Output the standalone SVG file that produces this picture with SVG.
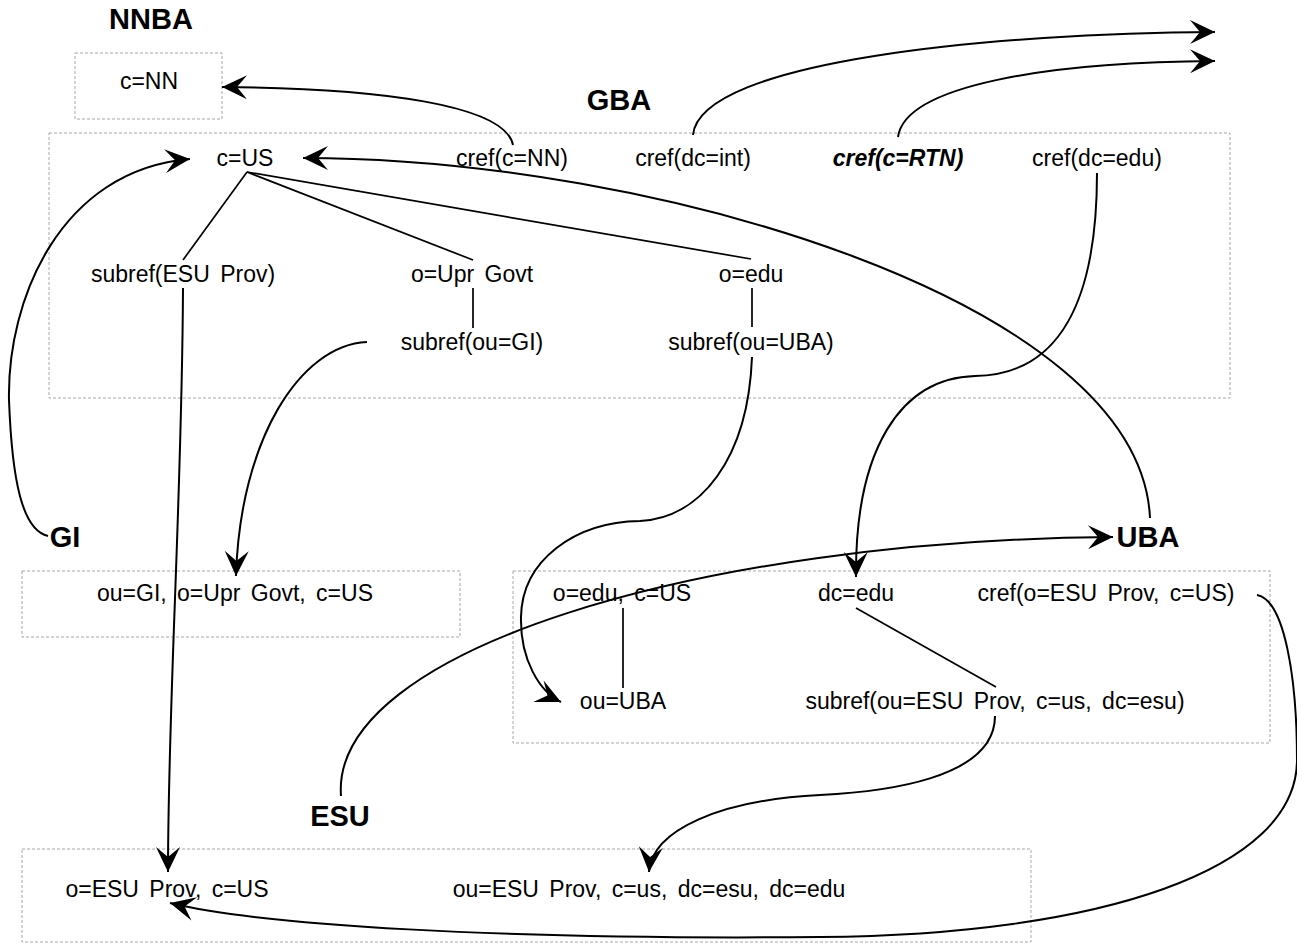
<svg xmlns="http://www.w3.org/2000/svg" width="1297" height="944" viewBox="0 0 1297 944">
<style>
.box{fill:none;stroke:#a6a6a6;stroke-width:1;stroke-dasharray:3 2}
.t{font-family:"Liberation Sans",Arial,sans-serif;font-size:23px;fill:#000;text-anchor:middle;word-spacing:4px}
.lbl{font-family:"Liberation Sans",Arial,sans-serif;font-size:29px;font-weight:bold;fill:#000;text-anchor:middle}
.bi{font-weight:bold;font-style:italic}
.edge{fill:none;stroke:#000;stroke-width:2}
.tree{fill:none;stroke:#000;stroke-width:1.7}
.arr{marker-end:url(#ah)}
</style>
<defs>
<marker id="ah" markerUnits="userSpaceOnUse" markerWidth="28" markerHeight="28" viewBox="0 0 28 28" refX="26" refY="14" orient="auto">
<path d="M26,14 L1,2 L11,14 L1,26 Z" fill="#000"/>
</marker>
</defs>
<rect width="1297" height="944" fill="#fff"/>

<g id="NNBA">
<text class="lbl" x="151" y="29">NNBA</text>
<rect class="box" x="75" y="53" width="147" height="66"/>
<text class="t" x="149" y="89">c=NN</text>
</g>

<g id="GBA">
<text class="lbl" x="619" y="110">GBA</text>
<rect class="box" x="49" y="133" width="1181" height="265"/>
</g>
<g id="gba-c-us"><text class="t" x="245" y="166">c=US</text></g>
<g id="gba-cref-nn"><text class="t" x="512" y="166">cref(c=NN)</text></g>
<g id="gba-cref-int"><text class="t" x="693" y="166">cref(dc=int)</text></g>
<g id="gba-cref-rtn"><text class="t bi" x="898" y="166">cref(c=RTN)</text></g>
<g id="gba-cref-edu"><text class="t" x="1097" y="166">cref(dc=edu)</text></g>
<g id="gba-subref-esu"><text class="t" x="183" y="282">subref(ESU Prov)</text></g>
<g id="gba-o-upr"><text class="t" x="472" y="282">o=Upr Govt</text></g>
<g id="gba-o-edu"><text class="t" x="751" y="282">o=edu</text></g>
<g id="gba-subref-gi"><text class="t" x="472" y="350">subref(ou=GI)</text></g>
<g id="gba-subref-uba"><text class="t" x="751" y="350">subref(ou=UBA)</text></g>

<g id="GI">
<text class="lbl" x="65" y="547">GI</text>
<rect class="box" x="22" y="571" width="438" height="66"/>
<text class="t" x="235" y="601">ou=GI, o=Upr Govt, c=US</text>
</g>

<g id="UBA">
<text class="lbl" x="1148" y="547">UBA</text>
<rect class="box" x="513" y="571" width="757" height="172"/>
</g>
<g id="uba-o-edu"><text class="t" x="622" y="601">o=edu, c=US</text></g>
<g id="uba-dc-edu"><text class="t" x="856" y="601">dc=edu</text></g>
<g id="uba-cref-esu"><text class="t" x="1106" y="601">cref(o=ESU Prov, c=US)</text></g>
<g id="uba-ou-uba"><text class="t" x="623" y="709">ou=UBA</text></g>
<g id="uba-subref-esu"><text class="t" x="995" y="709">subref(ou=ESU Prov, c=us, dc=esu)</text></g>

<g id="ESU">
<text class="lbl" x="340" y="826">ESU</text>
<rect class="box" x="22" y="849" width="1009" height="93"/>
</g>
<g id="esu-o-prov"><text class="t" x="167" y="897">o=ESU Prov, c=US</text></g>
<g id="esu-ou-prov"><text class="t" x="649" y="897">ou=ESU Prov, c=us, dc=esu, dc=edu</text></g>

<g id="connectors">
<line class="tree" x1="247" y1="172" x2="183" y2="260"/>
<line class="tree" x1="247" y1="172" x2="473" y2="260"/>
<line class="tree" x1="247" y1="172" x2="751" y2="259"/>
<line class="tree" x1="473" y1="288" x2="473" y2="328"/>
<line class="tree" x1="752" y1="288" x2="752" y2="327"/>
<line class="tree" x1="623" y1="608" x2="623" y2="688"/>
<line class="tree" x1="856" y1="608" x2="996" y2="687"/>

<path class="edge arr" d="M513,145 C505,105 380,88 222,87"/>
<path class="edge arr" d="M693,135 C700,60 1000,33 1215,32"/>
<path class="edge arr" d="M898,137 C905,85 1050,62 1215,61"/>
<path class="edge arr" d="M1150,518 C1140,300 650,158 303,158"/>
<path class="edge arr" d="M48,536 C22,530 12,480 9,400 C7,300 60,170 190,159"/>
<path class="edge arr" d="M183,288 C182,500 168,700 168,872"/>
<path class="edge arr" d="M367,342 C300,345 240,440 236,576"/>
<path class="edge arr" d="M1097,173 C1097,300 1060,375 975,376 C900,378 855,450 856,577"/>
<path class="edge arr" d="M752,357 C748,460 700,518 640,521 C575,522 522,560 521,617 C520,660 540,692 561,702"/>
<path class="edge arr" d="M341,796 C330,650 700,540 1113,537"/>
<path class="edge arr" d="M995,716 C995,780 880,792 820,795 C720,800 652,830 649,872"/>
<path class="edge arr" d="M1257,595 C1285,600 1297,680 1297,760 C1297,870 1100,935 820,937 C500,940 260,925 170,903"/>
</g>
</svg>
